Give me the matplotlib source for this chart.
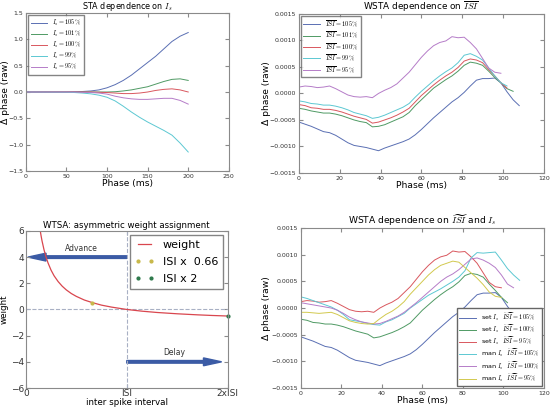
import numpy as np
import matplotlib
matplotlib.use('Agg')
from matplotlib import pyplot as plt

plt.rcParams['mathtext.fontset'] = 'cm'
plt.rcParams['xtick.direction'] = 'in'
plt.rcParams['ytick.direction'] = 'in'
plt.rcParams['xtick.top'] = True
plt.rcParams['ytick.right'] = True
plt.rcParams['axes.edgecolor'] = '#8a8a8a'
plt.rcParams['xtick.color'] = '#8a8a8a'
plt.rcParams['ytick.color'] = '#8a8a8a'
plt.rcParams['xtick.labelcolor'] = '#333333'
plt.rcParams['ytick.labelcolor'] = '#333333'
plt.rcParams['legend.edgecolor'] = '#666666'
plt.rcParams['legend.fancybox'] = False

B = '#5a6fb3'
G = '#4f9a64'
R = '#d9575e'
C = '#5cc8d2'
M = '#b57cc8'
Y = '#d2c94e'

# --- STA dependence on I_s (top left)
sta_phase = [0, 50, 60, 70, 80, 90, 100, 110, 120, 130, 140, 150, 160, 170, 180, 190, 200]
sta_105 = [0, 0, 0.005, 0.01, 0.02, 0.04, 0.08, 0.14, 0.22, 0.32, 0.44, 0.56, 0.68, 0.82, 0.96, 1.06, 1.13]
sta_101 = [0, 0, 0, 0, 0, 0, 0, 0.005, 0.02, 0.04, 0.07, 0.1, 0.15, 0.2, 0.24, 0.25, 0.22]
sta_100 = [0, 0, 0, 0, 0, -0.005, -0.01, -0.02, -0.03, -0.03, -0.02, 0.0, 0.03, 0.05, 0.06, 0.04, 0.0]
sta_99 = [0, -0.005, -0.01, -0.02, -0.035, -0.06, -0.1, -0.17, -0.27, -0.38, -0.48, -0.57, -0.65, -0.73, -0.82, -0.97, -1.14]
sta_95 = [0, 0, 0, -0.005, -0.01, -0.02, -0.04, -0.08, -0.11, -0.13, -0.14, -0.14, -0.13, -0.12, -0.12, -0.16, -0.23]

# --- WSTA dependence on ISI (top right), values x1e-4
wsta_phase = [0, 3, 6, 9, 12, 15, 18, 21, 24, 27, 30, 33, 36, 39, 42, 45, 48, 51, 54,
              57, 60, 63, 66, 69, 72, 75, 78, 81, 84, 87, 90, 93, 96, 99, 102, 105, 108]
wsta_105 = [-5.4, -5.8, -6.2, -6.7, -7.2, -7.4, -7.9, -8.6, -9.3, -9.8, -10.0, -10.2, -10.5,
            -10.8, -10.3, -9.9, -9.5, -9.1, -8.6, -7.8, -6.8, -5.7, -4.6, -3.6, -2.6, -1.6,
            -0.8, 0.2, 1.4, 2.5, 2.8, 2.8, 2.9, 2.0, 0.3, -1.2, -2.3]
wsta_101 = [-2.8, -3.0, -3.3, -3.5, -3.7, -3.7, -3.9, -4.2, -4.6, -5.0, -5.3, -5.5, -6.3,
            -6.2, -5.9, -5.4, -4.9, -4.4, -3.6, -2.3, -1.2, -0.1, 1.0, 1.8, 2.6, 3.3, 4.2,
            5.3, 5.9, 5.7, 5.3, 4.2, 3.0, 2.0, 0.9, 0.4]
wsta_100 = [-2.1, -2.3, -2.7, -2.8, -3.0, -3.0, -3.2, -3.5, -3.9, -4.3, -4.6, -4.9, -5.6,
            -5.4, -5.0, -4.6, -4.1, -3.5, -2.8, -1.6, -0.4, 0.6, 1.6, 2.5, 3.3, 4.0, 4.9,
            6.1, 6.5, 6.3, 5.8, 4.5, 3.3, 2.0, 1.0]
wsta_99 = [-1.4, -1.6, -1.9, -2.0, -2.2, -2.2, -2.4, -2.7, -3.1, -3.6, -3.9, -4.2, -4.7,
           -4.5, -4.1, -3.6, -3.1, -2.6, -1.9, -0.7, 0.4, 1.4, 2.4, 3.3, 4.1, 4.8, 5.8,
           7.2, 7.5, 7.0, 6.3, 4.8, 3.3, 2.0, 1.4]
wsta_95 = [1.2, 1.4, 1.3, 1.1, 1.2, 1.4, 0.9, 0.3, -0.3, -0.6, -0.7, -0.6, -0.8, 0.0, 0.6,
           1.1, 1.8, 2.9, 4.0, 5.4, 6.8, 8.0, 9.0, 9.6, 9.9, 10.7, 10.5, 10.6, 9.6, 8.4,
           6.6, 4.8, 4.0, 3.8]

# --- manual I_s curves (bottom right), values x1e-4
man_105 = [2.1, 1.8, 1.4, 1.0, 0.6, 0.2, -0.4, -1.2, -2.2, -2.4, -2.6, -2.9, -3.1, -3.2,
           -2.6, -2.2, -1.6, -1.0, 0.0, 0.8, 1.6, 2.4, 3.0, 3.6, 4.3, 5.0, 5.8, 7.0, 9.4,
           10.4, 10.3, 10.4, 10.5, 9.0, 7.4, 6.2, 5.2]
man_100 = [1.0, 0.8, 0.6, 0.4, 0.2, 0.0, -0.4, -1.0, -1.7, -2.2, -2.6, -2.8, -3.0, -2.9,
           -2.5, -2.0, -1.5, -0.8, 0.1, 1.0, 2.0, 3.0, 4.0, 5.0, 5.8, 6.4, 7.2, 8.2, 9.2,
           9.4, 9.0, 8.4, 7.6, 6.2, 4.5, 3.8]
man_95 = [-0.8, -0.8, -0.9, -1.0, -0.9, -0.8, -1.2, -1.8, -2.4, -2.7, -2.9, -3.0, -2.9,
          -2.0, -1.2, -0.6, 0.2, 1.2, 2.6, 3.8, 5.0, 6.2, 7.2, 8.0, 8.4, 8.8, 8.6, 7.6,
          6.6, 5.6, 4.4, 3.0, 2.2, 2.0]

# --- weight assignment (bottom left)
w_isi = [0.14, 0.15, 0.16, 0.18, 0.2, 0.22, 0.25, 0.28, 0.32, 0.36, 0.4, 0.45, 0.5, 0.58,
         0.66, 0.75, 0.85, 1.0, 1.15, 1.3, 1.5, 1.7, 1.85, 2.0]
w_val = [6.14, 5.67, 5.25, 4.56, 4.0, 3.55, 3.0, 2.57, 2.13, 1.78, 1.5, 1.22, 1.0, 0.72,
         0.52, 0.33, 0.18, 0.0, -0.13, -0.23, -0.33, -0.41, -0.46, -0.5]
short_isi = [0.66]
short_w = [0.52]
long_isi = [2.0]
long_w = [-0.5]

fig = plt.figure(figsize=(5.5, 4.08), dpi=100)
lw = 0.7
tick_fs = 4.5


def scaled(v):
    return np.array(v) * 1e-4


def style_wsta(ax, ylab_x):
    ax.set_xlim(0, 120)
    ax.set_ylim(-0.0015, 0.0015)
    ax.set_yticks([-0.0015, -0.001, -0.0005, 0, 0.0005, 0.001, 0.0015])
    ax.set_yticklabels(['\u22120.0015', '\u22120.0010', '\u22120.0005', '0.0000',
                        '0.0005', '0.0010', '0.0015'])
    ax.tick_params(labelsize=tick_fs, length=3, pad=2)
    ax.set_xlabel('Phase (ms)', fontsize=6.6, labelpad=0)
    ax.set_ylabel('\u0394 phase (raw)', fontsize=6.6)
    ax.yaxis.set_label_coords(ylab_x, 0.5)


# top left
ax1 = fig.add_axes([0.047, 0.581, 0.369, 0.387])
ax1.plot(sta_phase, sta_105, color=B, lw=lw, label=r'$I_s=105\%$')
ax1.plot(sta_phase, sta_101, color=G, lw=lw, label=r'$I_s=101\%$')
ax1.plot(sta_phase, sta_100, color=R, lw=lw, label=r'$I_s=100\%$')
ax1.plot(sta_phase, sta_99, color=C, lw=lw, label=r'$I_s=99\%$')
ax1.plot(sta_phase, sta_95, color=M, lw=lw, label=r'$I_s=95\%$')
ax1.set_xlim(0, 250)
ax1.set_ylim(-1.5, 1.5)
ax1.tick_params(labelsize=tick_fs, length=3, pad=2)
ax1.set_xlabel('Phase (ms)', fontsize=6.6, labelpad=0)
ax1.set_ylabel('\u0394 phase (raw)', fontsize=6.6)
ax1.yaxis.set_label_coords(-0.08, 0.5)
ax1.set_title(r'STA dependence on $I_s$', fontsize=5.8, pad=2)
ax1.legend(loc='upper left', fontsize=4.6, handlelength=2.6, labelspacing=0.15,
           borderaxespad=0.3, borderpad=0.45)

# top right
ax2 = fig.add_axes([0.5436, 0.576, 0.445, 0.39])
ax2.plot(wsta_phase[:len(wsta_105)], scaled(wsta_105), color=B, lw=lw, label=r'$\overline{ISI}=105\%$')
ax2.plot(wsta_phase[:len(wsta_101)], scaled(wsta_101), color=G, lw=lw, label=r'$\overline{ISI}=101\%$')
ax2.plot(wsta_phase[:len(wsta_100)], scaled(wsta_100), color=R, lw=lw, label=r'$\overline{ISI}=100\%$')
ax2.plot(wsta_phase[:len(wsta_99)], scaled(wsta_99), color=C, lw=lw, label=r'$\overline{ISI}=99\%$')
ax2.plot(wsta_phase[:len(wsta_95)], scaled(wsta_95), color=M, lw=lw, label=r'$\overline{ISI}=95\%$')
style_wsta(ax2, -0.115)
ax2.set_title(r'WSTA dependence on $\overline{ISI}$', fontsize=6.4, pad=2)
ax2.legend(loc='upper left', fontsize=4.6, handlelength=2.6, labelspacing=0.1,
           borderaxespad=0.3, borderpad=0.4)

# bottom left
ax3 = fig.add_axes([0.047, 0.049, 0.367, 0.385])
ax3.axvline(1, color='#a8b0c4', ls='--', lw=0.8)
ax3.axhline(0, color='#a8b0c4', ls='--', lw=0.8)
ax3.plot(w_isi, w_val, color='#d9464e', lw=0.9, label='weight')
ax3.plot(short_isi, short_w, '.', color='#c8b84a', ms=4, label='ISI x  0.66')
ax3.plot(long_isi, long_w, '.', color='#2e7a4c', ms=4, label='ISI x 2', clip_on=False)
ax3.arrow(1, 4, -0.8, 0, width=0.2, head_width=0.6, head_length=0.18,
          color='#3b5ba5', length_includes_head=False)
ax3.arrow(1, -4, 0.76, 0, width=0.2, head_width=0.6, head_length=0.18,
          color='#3b5ba5', length_includes_head=False)
ax3.text(0.55, 4.35, 'Advance', fontsize=5.5, color='#333333', ha='center', va='bottom')
ax3.text(1.47, -3.65, 'Delay', fontsize=5.5, color='#333333', ha='center', va='bottom')
ax3.set_xlim(0, 2)
ax3.set_ylim(-6, 6)
ax3.set_xticks([0, 1, 2])
ax3.set_xticklabels(['0', 'ISI', '2xISI'])
ax3.set_yticks([-6, -4, -2, 0, 2, 4, 6])
ax3.tick_params(labelsize=6.5, length=3, pad=1)
ax3.set_xlabel('inter spike interval', fontsize=6.3, labelpad=0)
ax3.set_ylabel('weight', fontsize=6.3)
ax3.yaxis.set_label_coords(-0.085, 0.5)
ax3.set_title('WTSA: asymmetric weight assignment', fontsize=6.2, pad=2)
ax3.legend(loc='upper right', fontsize=8, numpoints=2, handlelength=1.7,
           borderaxespad=0.4, labelspacing=0.6, borderpad=0.45)

# bottom right
ax4 = fig.add_axes([0.547, 0.049, 0.442, 0.392])
ax4.plot(wsta_phase[:len(wsta_105)], scaled(wsta_105), color=B, lw=lw,
         label=r'set $I_s$  $\widetilde{ISI}=105\%$')
ax4.plot(wsta_phase[:len(wsta_100)], scaled(wsta_100), color=G, lw=lw,
         label=r'set $I_s$  $\widetilde{ISI}=100\%$')
ax4.plot(wsta_phase[:len(wsta_95)], scaled(wsta_95), color=R, lw=lw,
         label=r'set $I_s$  $\widetilde{ISI}=95\%$')
ax4.plot(wsta_phase[:len(man_105)], scaled(man_105), color=C, lw=lw,
         label=r'man $I_s$  $\widetilde{ISI}=105\%$')
ax4.plot(wsta_phase[:len(man_100)], scaled(man_100), color=M, lw=lw,
         label=r'man $I_s$  $\widetilde{ISI}=100\%$')
ax4.plot(wsta_phase[:len(man_95)], scaled(man_95), color=Y, lw=lw,
         label=r'man $I_s$  $\widetilde{ISI}=95\%$')
style_wsta(ax4, -0.123)
ax4.set_title(r'WSTA dependence on $\widetilde{ISI}$ and $I_s$', fontsize=6.6, pad=2)
ax4.legend(loc='lower right', framealpha=1, fontsize=4.6, handlelength=2.6,
           labelspacing=0.05, borderaxespad=0.25, borderpad=0.4)

plt.savefig('out.png', dpi=100)
